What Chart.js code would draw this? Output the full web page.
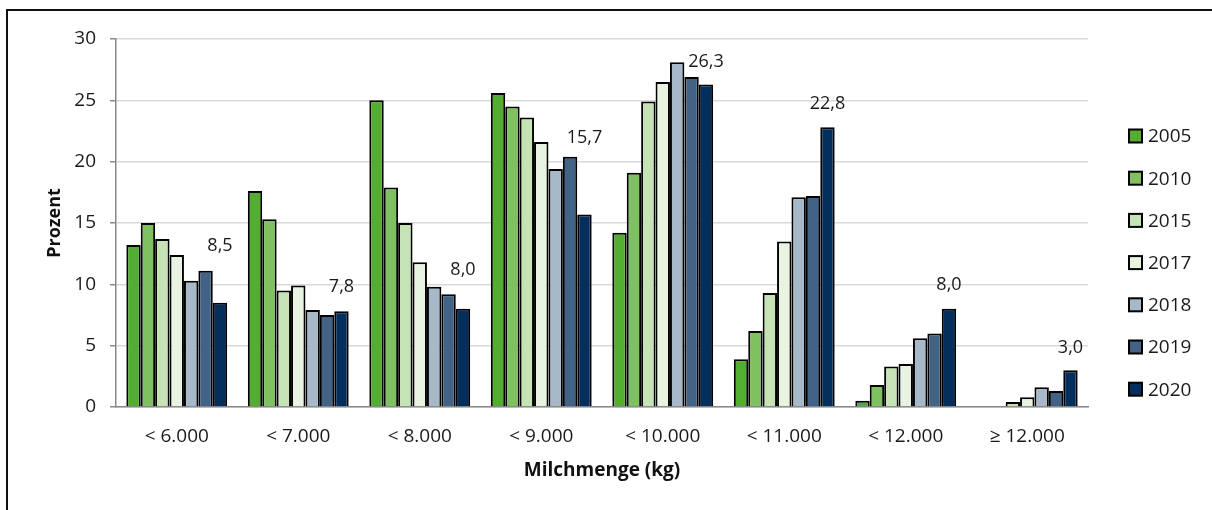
<!DOCTYPE html>
<html>
<head>
<meta charset="utf-8">
<script src="https://cdn.jsdelivr.net/npm/chart.js@4.4.1/dist/chart.umd.min.js"></script>
<style>
  html, body { margin: 0; padding: 0; background: #fff; }
  #wrap { position: relative; width: 1212px; height: 510px; overflow: hidden; }
  #frame { position: absolute; left: 6px; top: 9px; right: -10px; bottom: -10px;
           border-top: 2px solid #111; border-left: 2px solid #111; pointer-events: none; }
  canvas { position: absolute; left: 0; top: 0; }
</style>
</head>
<body>
<div id="wrap">
  <canvas id="myChart" width="1212" height="510"></canvas>
  <div id="frame"></div>
</div>
<script>
// categories (milk yield classes)
const labels = ['< 6.000', '< 7.000', '< 8.000', '< 9.000', '< 10.000', '< 11.000', '< 12.000', '\u2265 12.000'];

// share of cows in percent, per year
const years = ['2005', '2010', '2015', '2017', '2018', '2019', '2020'];
const y2005 = [13.2, 17.6, 25.0, 25.6, 14.2, 3.9, 0.5, null];
const y2010 = [15.0, 15.3, 17.9, 24.5, 19.1, 6.2, 1.8, null];
const y2015 = [13.7, 9.5, 15.0, 23.6, 24.9, 9.3, 3.3, 0.4];
const y2017 = [12.4, 9.9, 11.8, 21.6, 26.5, 13.5, 3.5, 0.8];
const y2018 = [10.3, 7.9, 9.8, 19.4, 28.1, 17.1, 5.6, 1.6];
const y2019 = [11.1, 7.5, 9.2, 20.4, 26.9, 17.2, 6.0, 1.3];
const y2020 = [8.5, 7.8, 8.0, 15.7, 26.3, 22.8, 8.0, 3.0];

const yTicks = [0, 5, 10, 15, 20, 25, 30];

const colors = ['#52ad30', '#7fc160', '#c6e3b6', '#e8f3e1', '#a7b8c8', '#426386', '#042e5b'];
const series = [y2005, y2010, y2015, y2017, y2018, y2019, y2020];

// how far above the 2020 bar each value label sits (px), as placed in the original
const labelLift = [57, 24, 39, 77, 23, 23, 24, 22];

const FONT = "'Open Sans', 'Noto Sans', sans-serif";
Chart.defaults.font.family = FONT;
Chart.defaults.color = '#1a1a1a';

const ctx = document.getElementById('myChart').getContext('2d');

// value labels on the 2020 series, german decimal comma
const valueLabels = {
    id: 'valueLabels',
    afterDatasetsDraw(chart) {
        const meta = chart.getDatasetMeta(series.length - 1);
        const c = chart.ctx;
        c.save();
        c.font = '18px ' + FONT;
        c.fillStyle = '#1a1a1a';
        c.textAlign = 'center';
        c.textBaseline = 'middle';
        meta.data.forEach((bar, i) => {
            const v = y2020[i];
            if (v == null) return;
            c.fillText(v.toFixed(1).replace('.', ','), bar.x, bar.y - labelLift[i]);
        });
        c.restore();
    }
};

// legend on the right, drawn by hand so it sits where the original has it
const sideLegend = {
    id: 'sideLegend',
    afterDraw(chart) {
        const c = chart.ctx;
        c.save();
        c.font = '19px ' + FONT;
        c.textBaseline = 'middle';
        c.textAlign = 'left';
        years.forEach((yr, i) => {
            const cy = 136 + i * 42.2;
            c.fillStyle = colors[i];
            c.fillRect(1129, cy - 6.5, 13, 13);
            c.lineWidth = 2;
            c.strokeStyle = '#000';
            c.strokeRect(1129, cy - 6.5, 13, 13);
            c.fillStyle = '#1a1a1a';
            c.fillText(yr, 1148, cy + 1);
        });
        c.restore();
    }
};

const data = {
    labels,
    datasets: years.map((yr, i) => ({
        label: yr,
        data: series[i],
        backgroundColor: colors[i],
        borderColor: '#000',
        borderWidth: 2,
        categoryPercentage: 0.83,
        barPercentage: 1.0
    }))
};

const config = {
    type: 'bar',
    data: data,
    options: {
        responsive: false,
        animation: false,
        devicePixelRatio: 1,
        layout: { padding: { left: 0, right: 124, top: 39, bottom: 0 } },
        plugins: {
            legend: { display: false },
            tooltip: { enabled: false }
        },
        scales: {
            x: {
                grid: { display: false, drawTicks: false },
                border: { display: true, color: '#898989', width: 1.5 },
                ticks: { padding: 18, font: { size: 19 }, color: '#1a1a1a' },
                title: {
                    display: true,
                    text: 'Milchmenge (kg)',
                    font: { size: 19, weight: 'bold' },
                    color: '#111',
                    padding: { top: 0, bottom: 28 }
                },
                afterFit(scale) { scale.height = 103; }
            },
            y: {
                min: 0,
                max: 30,
                afterBuildTicks(scale) { scale.ticks = yTicks.map(v => ({ value: v })); },
                grid: { color: '#d9d9d9', lineWidth: 1.5, tickColor: '#898989', tickLength: 6 },
                border: { display: true, color: '#898989', width: 1.5 },
                ticks: { padding: 14, font: { size: 19 }, color: '#1a1a1a' },
                title: {
                    display: true,
                    text: 'Prozent',
                    font: { size: 18, weight: 'bold' },
                    color: '#111',
                    padding: { top: 44, bottom: 0 }
                },
                afterFit(scale) { scale.width = 116; }
            }
        }
    },
    plugins: [valueLabels, sideLegend]
};

const myChart = new Chart(ctx, config);
</script>
</body>
</html>
